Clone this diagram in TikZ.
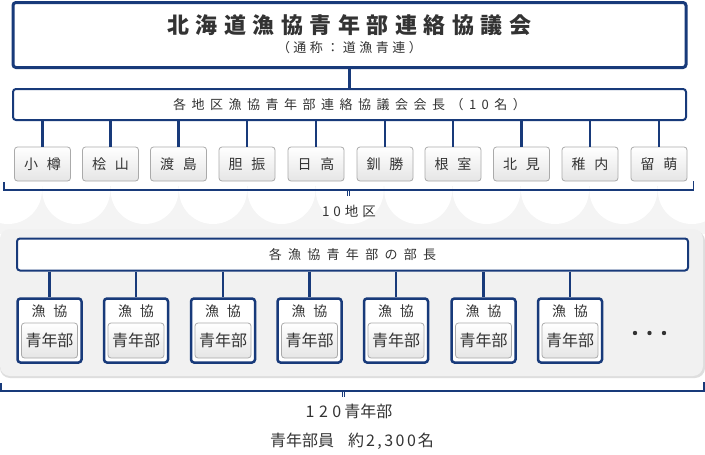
\documentclass[tikz,border=0pt]{standalone}
\usepackage{fontspec}
\setmainfont{Noto Sans CJK JP}
\usetikzlibrary{calc}
\definecolor{navy}{RGB}{24,58,122}
\definecolor{txt}{RGB}{51,51,51}
\definecolor{panelc}{RGB}{241,241,241}
\definecolor{scalc}{RGB}{244,244,244}
\definecolor{gbord}{RGB}{170,170,170}
\ExplSyntaxOn
\NewDocumentCommand\sptext{m m}{
  \tl_set:Nx \l_tmpa_tl {#2}
  \tl_map_inline:Nn \l_tmpa_tl { ##1 \hskip #1 \relax } \unskip
}
\ExplSyntaxOff
\tikzset{
  navybox/.style={draw=navy, fill=white, rounded corners=3pt, inner sep=0pt, text=txt},
  graybox/.style={draw=gbord, line width=0.8pt, rounded corners=3pt, inner sep=0pt,
     top color=white, bottom color=black!10, text=txt},
  conn/.style={draw=navy, line width=2.4pt},
  brk/.style={draw=navy, line width=1.2pt},
  lbl/.style={inner sep=0pt, text=txt},
}
\begin{document}
\begin{tikzpicture}[x=1pt,y=-1pt]
\useasboundingbox (0,0) rectangle (705,455);
\fill[white] (0,0) rectangle (705,455);

% scallop background
\begin{scope}
\clip (0,186) rectangle (705,234);
\fill[scalc] (0,186) rectangle (705,234);
\foreach \cx in {8,76.2,144.6,213,281.4,349.8,418.2,486.6,555,623.4,691.8}
  \fill[white] (\cx,190) circle (34pt);
\end{scope}

% panel
\fill[black!13, rounded corners=10pt] (0,231) rectangle (705,378);
\fill[panelc, rounded corners=10pt] (0,229) rectangle (703,376);

% top box
\node[navybox, line width=3pt, minimum width=673pt, minimum height=65pt] (top) at (349.5,35) {};
\node[lbl] (title) at (349.5,25) {\fontsize{22}{22}\selectfont\bfseries\sptext{6.5pt}{北海道漁協青年部連絡協議会}};
\node[lbl] (sub) at (349.5,48) {\fontsize{13}{13}\selectfont\sptext{3.5pt}{（通称：道漁青連）}};

% chair box
\node[navybox, line width=2pt, minimum width=673pt, minimum height=31pt] (chair) at (349.5,104.5)
  {\fontsize{13}{13}\selectfont\sptext{5.5pt}{各地区漁協青年部連絡協議会会長（10名）}};
\draw[conn] (top.south) -- (chair.north);

% regions
\foreach \i/\x/\t in {1/42.5/小樽,2/110.5/桧山,3/178.5/渡島,4/247/胆振,5/316/日高,6/385/釧勝,7/453/根室,8/521.5/北見,9/590/稚内,10/659/留萌}{
  \node[graybox, minimum width=56pt, minimum height=34pt] (r\i) at (\x,164)
    {\fontsize{14}{14}\selectfont\sptext{9pt}{\t}};
  \draw[conn] (r\i.north |- chair.south) -- (r\i.north);
}

% bracket 1
\coordinate (b1l) at (4,182);
\coordinate (b1r) at (693.5,181);
\draw[brk] (b1l) |- (348,190) -| (b1r);
\draw[navy, line width=0.7pt] (347,190) -- (347,196) (349.6,190) -- (349.6,196);
\node[lbl] (ten) at (349,211) {\fontsize{13.5}{13.5}\selectfont\sptext{4pt}{10地区}};

% bu box
\node[navybox, line width=2pt, minimum width=671pt, minimum height=32pt] (bu) at (352.5,254.5)
  {\fontsize{13}{13}\selectfont\sptext{6.3pt}{各漁協青年部の部長}};

% fishery boxes
\foreach \i/\x in {1/49.5,2/136,3/223,4/309.5,5/396,6/483.5,7/570}{
  \node[navybox, line width=2.5pt, minimum width=64pt, minimum height=64pt] (f\i) at (\x,330.5) {};
  \node[lbl] (fl\i) at (\x,311) {\fontsize{14}{14}\selectfont\sptext{8pt}{漁協}};
  \node[graybox, minimum width=56pt, minimum height=35pt] (fi\i) at (\x,340.5)
    {\fontsize{16}{16}\selectfont 青年部};
  \draw[conn] (f\i.north |- bu.south) -- (f\i.north);
}
\foreach \x in {635,649.5,664} \fill[txt] (\x,333) circle (2.2pt);

% bracket 2
\coordinate (b2l) at (1,383);
\coordinate (b2r) at (704,382);
\draw[brk] (b2l) |- (343,391) -| (b2r);
\draw[navy, line width=0.7pt] (342,391) -- (342,396.5) (344.6,391) -- (344.6,396.5);

\node[lbl] (cnt) at (349,411) {\fontsize{16}{16}\selectfont\sptext{4.5pt}{120}\hskip3pt 青年部};
\node[lbl] (mem) at (352,441) {\fontsize{16}{16}\selectfont 青年部員\hskip14pt 約\hskip2pt\sptext{2.5pt}{2,300}\hskip2pt 名};
\end{tikzpicture}
\end{document}
